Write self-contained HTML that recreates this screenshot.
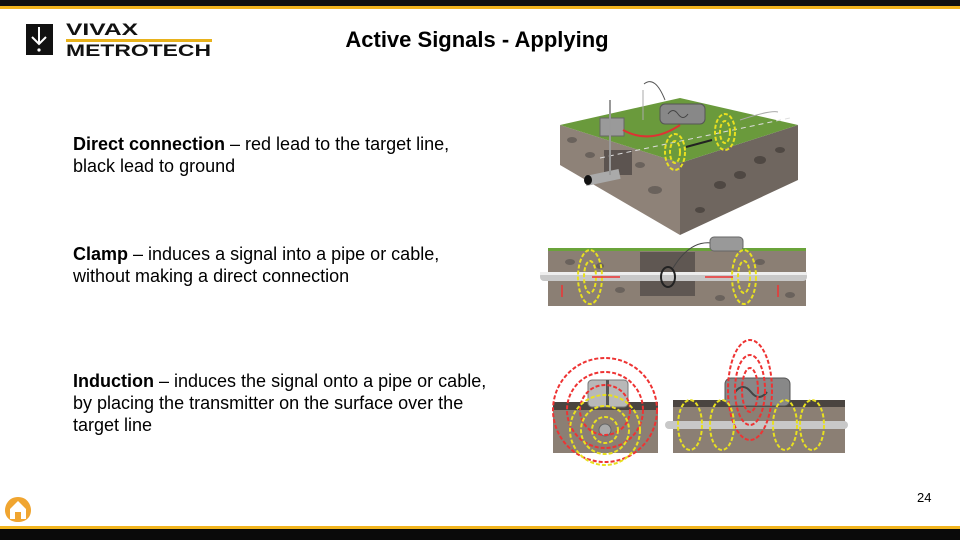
<!DOCTYPE html>
<html><head><meta charset="utf-8"><style>
body{margin:0;width:960px;height:540px;overflow:hidden;background:#fff;font-family:"Liberation Sans",Arial,sans-serif;position:relative}
.t{position:absolute;left:73px;font-size:18px;line-height:22px;color:#000}
</style></head><body>
<div style="position:absolute;left:0;top:0;width:960px;height:6px;background:#111"></div>
<div style="position:absolute;left:0;top:6px;width:960px;height:3px;background:#f2b51e"></div>
<div style="position:absolute;left:0;top:526px;width:960px;height:3px;background:#f2b51e"></div>
<div style="position:absolute;left:0;top:529px;width:960px;height:11px;background:#0a0a0a"></div>
<!-- logo -->
<svg style="position:absolute;left:24px;top:20px" width="195" height="40">
<rect x="2" y="4" width="27" height="31" fill="#111"/>
<path d="M15 7v16M8 17l7 7 7-7" stroke="#fff" stroke-width="2" fill="none"/>
<circle cx="15" cy="30" r="1.6" fill="#fff"/>
<text x="42" y="15" font-family="Liberation Sans" font-weight="bold" font-size="17" fill="#111" textLength="72" lengthAdjust="spacingAndGlyphs">VIVAX</text>
<rect x="42" y="19" width="146" height="3" fill="#e8b21c"/>
<text x="42" y="36" font-family="Liberation Sans" font-weight="bold" font-size="17" fill="#111" textLength="145" lengthAdjust="spacingAndGlyphs">METROTECH</text>
</svg>
<div style="position:absolute;left:0;width:954px;top:27px;text-align:center;font-weight:bold;font-size:22px">Active Signals - Applying</div>
<div class="t" style="top:133px"><b>Direct connection</b> – red lead to the target line,<br>black lead to ground</div>
<div class="t" style="top:243px"><b>Clamp</b> – induces a signal into a pipe or cable,<br>without making a direct connection</div>
<div class="t" style="top:370px"><b>Induction</b> – induces the signal onto a pipe or cable,<br>by placing the transmitter on the surface over the<br>target line</div>
<div style="position:absolute;left:917px;top:490px;font-size:13px">24</div>
<svg style="position:absolute;left:3px;top:494px" width="30" height="30"><path d="M15 3 C25 3 28 12 28 16 C28 24 22 28 15 28 C8 28 2 24 2 16 C2 12 5 3 15 3Z" fill="#f0a530"/><path d="M15 7 L23 15 V25 H7 V15Z" fill="#fff"/><rect x="12" y="18" width="6" height="7" fill="#f0a530"/></svg>
<svg style="position:absolute;left:0;top:0" width="960" height="540">
<!-- top block -->
<polygon points="560,125 680,163 680,235 560,165" fill="#8e8278"/>
<polygon points="680,163 798,125 798,180 680,235" fill="#6f665f"/>
<polygon points="560,125 680,98 798,125 680,163" fill="#6a9a3c"/>
<rect x="604" y="150" width="28" height="25" fill="#5c5450"/>
<line x1="600" y1="158" x2="790" y2="118" stroke="#ddd" stroke-dasharray="5,4"/>
<rect x="585" y="173" width="35" height="10" fill="#aaa" transform="rotate(-12 600 178)"/>
<ellipse cx="588" cy="180" rx="4" ry="5" fill="#111"/>
<g fill="#6a625c"><ellipse cx="572" cy="140" rx="5" ry="3"/><ellipse cx="590" cy="155" rx="5" ry="3"/><ellipse cx="655" cy="190" rx="7" ry="4"/><ellipse cx="640" cy="165" rx="5" ry="3"/></g>
<g fill="#4f4843"><ellipse cx="720" cy="185" rx="6" ry="4"/><ellipse cx="740" cy="175" rx="6" ry="4"/><ellipse cx="760" cy="160" rx="6" ry="4"/><ellipse cx="700" cy="210" rx="5" ry="3"/><ellipse cx="780" cy="150" rx="5" ry="3"/></g>
<rect x="600" y="118" width="24" height="18" fill="#9a9a9a" stroke="#666"/>
<line x1="610" y1="100" x2="610" y2="175" stroke="#999" stroke-width="2"/>
<path d="M623 130 Q650 145 680 125" stroke="#d33" stroke-width="2" fill="none"/>
<path d="M644 84 Q655 75 665 100" stroke="#555" fill="none"/>
<line x1="643" y1="90" x2="643" y2="120" stroke="#aaa"/>
<rect x="660" y="104" width="45" height="20" rx="5" fill="#888" stroke="#555"/>
<path d="M668 114 q5 -7 10 0 t10 0" stroke="#444" fill="none"/>
<path d="M740 120 Q770 110 778 112" stroke="#aaa" fill="none"/>
<g fill="none" stroke="#e8e020" stroke-width="2" stroke-dasharray="4,2"><ellipse cx="675" cy="152" rx="10" ry="18"/><ellipse cx="675" cy="152" rx="5" ry="11"/><ellipse cx="725" cy="132" rx="10" ry="18"/><ellipse cx="725" cy="132" rx="5" ry="11"/></g>
<line x1="686" y1="147" x2="712" y2="140" stroke="#222" stroke-width="2"/>
<!-- clamp strip -->
<rect x="548" y="250" width="258" height="56" fill="#8b7f74"/>
<rect x="548" y="248" width="258" height="3" fill="#6aa33a"/>
<rect x="640" y="252" width="55" height="44" fill="#5f5752"/>
<g fill="#6a625c"><ellipse cx="570" cy="262" rx="5" ry="3"/><ellipse cx="620" cy="290" rx="5" ry="3"/><ellipse cx="760" cy="262" rx="5" ry="3"/><ellipse cx="790" cy="295" rx="5" ry="3"/><ellipse cx="720" cy="298" rx="5" ry="3"/><ellipse cx="600" cy="266" rx="4" ry="3"/></g>
<rect x="540" y="272" width="267" height="9" rx="4" fill="#c8c8c8"/>
<rect x="540" y="272" width="267" height="3" fill="#eee"/>
<ellipse cx="668" cy="277" rx="7" ry="10" fill="none" stroke="#222" stroke-width="2"/>
<path d="M673 268 Q690 240 712 243" stroke="#444" fill="none"/>
<rect x="710" y="237" width="33" height="14" rx="4" fill="#999" stroke="#666"/>
<g fill="none" stroke="#e8e020" stroke-width="2" stroke-dasharray="4,2"><ellipse cx="590" cy="277" rx="12" ry="27"/><ellipse cx="590" cy="277" rx="6" ry="16"/><ellipse cx="744" cy="277" rx="12" ry="27"/><ellipse cx="744" cy="277" rx="6" ry="16"/></g>
<g stroke="#e33" stroke-width="1.5"><line x1="592" y1="277" x2="620" y2="277"/><line x1="705" y1="277" x2="733" y2="277"/><line x1="562" y1="285" x2="562" y2="297"/><line x1="778" y1="285" x2="778" y2="297"/></g>
<!-- induction -->
<rect x="553" y="402" width="105" height="51" fill="#8b7f74"/>
<rect x="553" y="402" width="105" height="8" fill="#4a4440"/>
<rect x="673" y="400" width="172" height="53" fill="#8b7f74"/>
<rect x="673" y="400" width="172" height="7" fill="#4a4440"/>
<rect x="665" y="421" width="183" height="8" rx="4" fill="#c8c8c8"/>
<circle cx="605" cy="430" r="6" fill="#aaa" stroke="#666"/>
<rect x="588" y="380" width="40" height="27" rx="4" fill="#b8b8b8" stroke="#777"/>
<rect x="606" y="380" width="3" height="27" fill="#555"/>
<rect x="725" y="378" width="65" height="28" rx="6" fill="#888" stroke="#555"/>
<path d="M735 392 q8 -10 16 0 t16 0" stroke="#444" fill="none" stroke-width="2"/>
<g fill="none" stroke="#e33" stroke-width="2" stroke-dasharray="4,2"><circle cx="605" cy="410" r="52"/><circle cx="605" cy="410" r="38"/><circle cx="605" cy="410" r="25"/><ellipse cx="750" cy="390" rx="22" ry="50"/><ellipse cx="750" cy="390" rx="15" ry="35"/><ellipse cx="750" cy="390" rx="8" ry="22"/></g>
<g fill="none" stroke="#e8e020" stroke-width="2" stroke-dasharray="4,2"><circle cx="605" cy="430" r="35"/><circle cx="605" cy="430" r="24"/><circle cx="605" cy="430" r="13"/><ellipse cx="690" cy="425" rx="12" ry="25"/><ellipse cx="722" cy="425" rx="12" ry="25"/><ellipse cx="785" cy="425" rx="12" ry="25"/><ellipse cx="812" cy="425" rx="12" ry="25"/></g>
</svg>
</body></html>
